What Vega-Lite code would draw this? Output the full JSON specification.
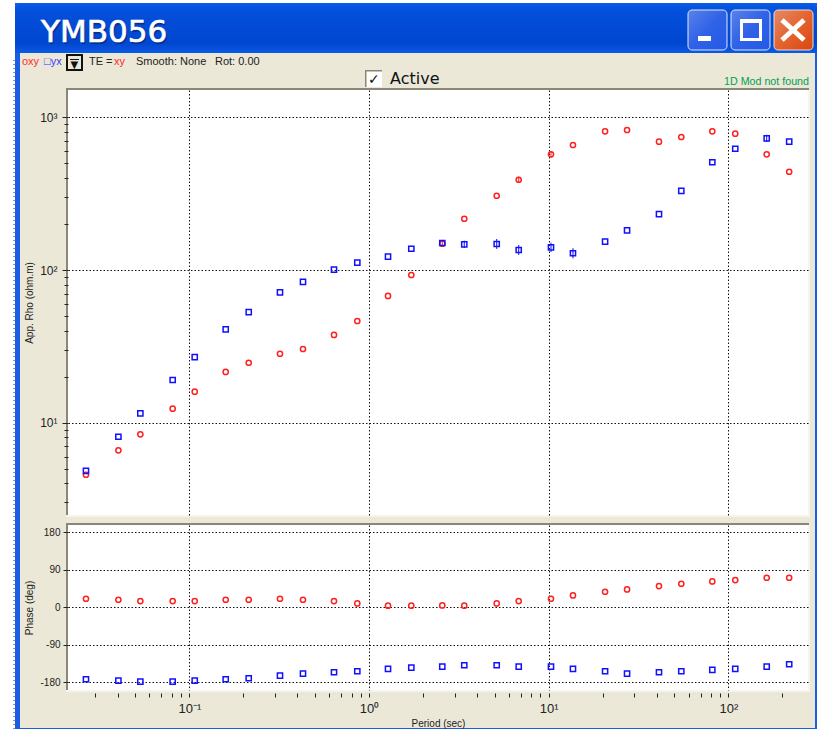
{"$schema":"https://vega.github.io/schema/vega-lite/v6.json","padding":0,"background":"white","spacing":10,"bounds":"flush","config":{"view":{"stroke":null},"font":"Liberation Sans","axis":{"labelFont":"Liberation Sans","titleFont":"Liberation Sans","titleFontWeight":"normal"}},"datasets":{"mt":[
{"period":0.0266,"mode":"xy","rho":4.56,"phase":20.4},{"period":0.0403,"mode":"xy","rho":6.59,"phase":18},{"period":0.0534,"mode":"xy","rho":8.39,"phase":14.8},{"period":0.0808,"mode":"xy","rho":12.35,"phase":14.8},{"period":0.1072,"mode":"xy","rho":15.96,"phase":14.8},{"period":0.1594,"mode":"xy","rho":21.5,"phase":18},{"period":0.2141,"mode":"xy","rho":24.7,"phase":18},{"period":0.3196,"mode":"xy","rho":28.3,"phase":20.4},{"period":0.4292,"mode":"xy","rho":30.4,"phase":18},{"period":0.6386,"mode":"xy","rho":37.6,"phase":14.8},{"period":0.8608,"mode":"xy","rho":46.4,"phase":9.2},{"period":1.276,"mode":"xy","rho":67.7,"phase":3.6},{"period":1.72,"mode":"xy","rho":92.9,"phase":3.6},{"period":2.558,"mode":"xy","rho":148.9,"phase":4.4,"lo":142,"hi":156},{"period":3.39,"mode":"xy","rho":217,"phase":3.6},{"period":5.137,"mode":"xy","rho":307,"phase":9.2},{"period":6.81,"mode":"xy","rho":391,"phase":14.8,"lo":373,"hi":410},{"period":10.3,"mode":"xy","rho":574,"phase":20.4,"lo":548,"hi":601},{"period":13.65,"mode":"xy","rho":660,"phase":28.4},{"period":20.6,"mode":"xy","rho":812,"phase":37.2},{"period":27.3,"mode":"xy","rho":828,"phase":42.8},{"period":41.1,"mode":"xy","rho":694,"phase":50.8},{"period":54.7,"mode":"xy","rho":745,"phase":56.4},{"period":81.4,"mode":"xy","rho":812,"phase":62},{"period":109.2,"mode":"xy","rho":783,"phase":65.2},{"period":163.4,"mode":"xy","rho":574,"phase":70.8},{"period":218,"mode":"xy","rho":441,"phase":70.8},
{"period":0.0266,"mode":"yx","rho":4.83,"phase":-173.2},{"period":0.0403,"mode":"yx","rho":8.09,"phase":-176.4},{"period":0.0534,"mode":"yx","rho":11.5,"phase":-178.8},{"period":0.0808,"mode":"yx","rho":19.05,"phase":-178.8},{"period":0.1072,"mode":"yx","rho":26.9,"phase":-176.4},{"period":0.1594,"mode":"yx","rho":40.9,"phase":-173.2},{"period":0.2141,"mode":"yx","rho":53.1,"phase":-170.8},{"period":0.3196,"mode":"yx","rho":71.5,"phase":-164.4},{"period":0.4292,"mode":"yx","rho":83.6,"phase":-159.6},{"period":0.6386,"mode":"yx","rho":100.6,"phase":-156.4},{"period":0.8608,"mode":"yx","rho":111.8,"phase":-154},{"period":1.276,"mode":"yx","rho":122.4,"phase":-148.4},{"period":1.72,"mode":"yx","rho":138,"phase":-145.2},{"period":2.558,"mode":"yx","rho":150.5,"phase":-142.8},{"period":3.39,"mode":"yx","rho":147.6,"phase":-139.6,"lo":139.6,"hi":156},{"period":5.137,"mode":"yx","rho":148.3,"phase":-139.6,"lo":137.6,"hi":160},{"period":6.81,"mode":"yx","rho":135.4,"phase":-142.8,"lo":125.6,"hi":146},{"period":10.3,"mode":"yx","rho":141,"phase":-142.8,"lo":131.4,"hi":151.3},{"period":13.65,"mode":"yx","rho":128.9,"phase":-148.4,"lo":119.4,"hi":139.2},{"period":20.6,"mode":"yx","rho":153.5,"phase":-154},{"period":27.3,"mode":"yx","rho":182,"phase":-159.6},{"period":41.1,"mode":"yx","rho":233,"phase":-156.4},{"period":54.7,"mode":"yx","rho":330,"phase":-154},{"period":81.4,"mode":"yx","rho":509,"phase":-150.8},{"period":109.2,"mode":"yx","rho":624,"phase":-148.4},{"period":163.4,"mode":"yx","rho":730,"phase":-142.8,"lo":691,"hi":770},{"period":218,"mode":"yx","rho":694,"phase":-137.2}
]},
"vconcat":[
{"width":740,"height":80,"layer":[
{"data":{"values":[{"part":"page","l":0,"r":819,"t":0,"b":729},{"part":"window","l":15,"r":817,"t":3,"b":729},{"part":"face","l":20,"r":815,"t":53,"b":728},{"part":"frame","l":66,"r":809,"t":88,"b":90},{"part":"frame","l":66,"r":68,"t":88,"b":517},{"part":"light","l":66,"r":810,"t":515,"b":517},{"part":"light","l":808,"r":810,"t":90,"b":517},{"part":"frame","l":66,"r":809,"t":523,"b":525},{"part":"frame","l":66,"r":68,"t":523,"b":692},{"part":"light","l":66,"r":810,"t":690,"b":692},{"part":"light","l":808,"r":810,"t":525,"b":692},{"part":"icon","l":23,"r":36,"t":23,"b":36},{"part":"dropdown","l":66,"r":83,"t":54,"b":71},{"part":"face","l":68,"r":81,"t":56,"b":69},{"part":"dropdown","l":70,"r":79,"t":59,"b":60},{"part":"frame","l":365,"r":382,"t":70,"b":87},{"part":"checkbox","l":366.5,"r":382,"t":71.5,"b":87}]},
"mark":{"type":"rect"},"encoding":{"x":{"field":"l","type":"quantitative","scale":{"domain":[68,808],"nice":false,"zero":false},"axis":null},"x2":{"field":"r"},"y":{"field":"t","type":"quantitative","scale":{"domain":[0,80],"reverse":true,"nice":false,"zero":false},"axis":null},"y2":{"field":"b"},"fill":{"field":"part","type":"nominal","legend":null,"scale":{"domain":["page","window","face","frame","light","icon","dropdown","checkbox"],"range":["#ffffff","#1a5ee6","#ebe8d8","#8a8778","#f6f4ec","#7d9a74","#111111","#ffffff"]}}}},
{"data":{"values":[{"l":15,"r":817,"t":3,"b":53}]},"mark":{"type":"rect","cornerRadiusTopLeft":6,"cornerRadiusTopRight":6,"fill":{"gradient":"linear","x1":0,"y1":0,"x2":0,"y2":1,"stops":[{"offset":0,"color":"#0a5de8"},{"offset":0.15,"color":"#0350dc"},{"offset":0.8,"color":"#0046cf"},{"offset":1,"color":"#0a5ae6"}]}},"encoding":{"x":{"field":"l","type":"quantitative"},"x2":{"field":"r"},"y":{"field":"t","type":"quantitative"},"y2":{"field":"b"}}},
{"data":{"values":[{"l":688,"r":727,"t":10,"b":50},{"l":731,"r":770,"t":10,"b":50}]},"mark":{"type":"rect","cornerRadius":4,"stroke":"#dfe8fb","strokeWidth":1,"fill":{"gradient":"linear","x1":0,"y1":0,"x2":1,"y2":1,"stops":[{"offset":0,"color":"#5b82ea"},{"offset":0.5,"color":"#2f62e6"},{"offset":1,"color":"#2459e8"}]}},"encoding":{"x":{"field":"l","type":"quantitative"},"x2":{"field":"r"},"y":{"field":"t","type":"quantitative"},"y2":{"field":"b"}}},
{"data":{"values":[{"l":774,"r":813,"t":10,"b":50}]},"mark":{"type":"rect","cornerRadius":4,"stroke":"#f2dcd2","strokeWidth":1,"fill":{"gradient":"linear","x1":0,"y1":0,"x2":1,"y2":1,"stops":[{"offset":0,"color":"#e58a68"},{"offset":0.5,"color":"#e4642f"},{"offset":1,"color":"#d9460f"}]}},"encoding":{"x":{"field":"l","type":"quantitative"},"x2":{"field":"r"},"y":{"field":"t","type":"quantitative"},"y2":{"field":"b"}}},
{"data":{"values":[{"l":698,"r":711,"t":36,"b":41},{"l":740,"r":762,"t":19,"b":23},{"l":740,"r":743,"t":19,"b":41},{"l":759,"r":762,"t":19,"b":41},{"l":740,"r":762,"t":38,"b":41}]},"mark":{"type":"rect","fill":"white"},"encoding":{"x":{"field":"l","type":"quantitative"},"x2":{"field":"r"},"y":{"field":"t","type":"quantitative"},"y2":{"field":"b"}}},
{"data":{"values":[{"l":782,"r":804,"t":20,"b":40},{"l":804,"r":782,"t":20,"b":40}]},"mark":{"type":"rule","color":"white","strokeWidth":5},"encoding":{"x":{"field":"l","type":"quantitative"},"x2":{"field":"r"},"y":{"field":"t","type":"quantitative"},"y2":{"field":"b"}}},
{"data":{"values":[{"l":14,"t":60,"b":729}]},"mark":{"type":"rule","color":"#333333","strokeDash":[1,3]},"encoding":{"x":{"field":"l","type":"quantitative"},"y":{"field":"t","type":"quantitative"},"y2":{"field":"b"}}},
{"data":{"values":[{"label":"YMB056","l":41,"base":42}]},"mark":{"type":"text","align":"left","baseline":"alphabetic","font":"DejaVu Sans","fontSize":31,"fill":"#0a2f8c","dx":1.5,"dy":1.5},"encoding":{"x":{"field":"l","type":"quantitative"},"y":{"field":"base","type":"quantitative"},"text":{"field":"label"}}},
{"data":{"values":[{"label":"YMB056","l":41,"base":42}]},"mark":{"type":"text","align":"left","baseline":"alphabetic","font":"DejaVu Sans","fontSize":31,"fill":"white","stroke":"white","strokeWidth":0.7},"encoding":{"x":{"field":"l","type":"quantitative"},"y":{"field":"base","type":"quantitative"},"text":{"field":"label"}}},
{"data":{"values":[{"label":"Active","l":390,"base":84}]},"mark":{"type":"text","align":"left","baseline":"alphabetic","font":"DejaVu Sans","fontSize":16,"fill":"#111111"},"encoding":{"x":{"field":"l","type":"quantitative"},"y":{"field":"base","type":"quantitative"},"text":{"field":"label"}}},
{"data":{"values":[{"label":"✓","l":368,"base":84}]},"mark":{"type":"text","align":"left","baseline":"alphabetic","font":"DejaVu Sans","fontSize":14,"fontWeight":"bold","fill":"#111111"},"encoding":{"x":{"field":"l","type":"quantitative"},"y":{"field":"base","type":"quantitative"},"text":{"field":"label"}}},
{"data":{"values":[{"label":"▼","l":70.5,"base":68}]},"mark":{"type":"text","align":"left","baseline":"alphabetic","font":"DejaVu Sans","fontSize":10,"fill":"#111111"},"encoding":{"x":{"field":"l","type":"quantitative"},"y":{"field":"base","type":"quantitative"},"text":{"field":"label"}}},
{"data":{"values":[{"label":"oxy","l":22,"base":65,"kind":"red"},{"label":"□yx","l":44,"base":65,"kind":"blue"},{"label":"TE =","l":89,"base":65,"kind":"dark"},{"label":"xy","l":114,"base":65,"kind":"red"},{"label":"Smooth:","l":136,"base":65,"kind":"dark"},{"label":"None","l":180,"base":65,"kind":"dark"},{"label":"Rot: 0.00","l":215,"base":65,"kind":"dark"}]},"mark":{"type":"text","align":"left","baseline":"alphabetic","fontSize":11},"encoding":{"x":{"field":"l","type":"quantitative"},"y":{"field":"base","type":"quantitative"},"text":{"field":"label"},"fill":{"field":"kind","type":"nominal","legend":null,"scale":{"domain":["red","blue","dark"],"range":["#ff2a2a","#3a3aff","#222222"]}}}},
{"data":{"values":[{"label":"1D Mod not found","l":724,"base":85}]},"mark":{"type":"text","align":"left","baseline":"alphabetic","fontSize":10.7,"fill":"#00a050"},"encoding":{"x":{"field":"l","type":"quantitative"},"y":{"field":"base","type":"quantitative"},"text":{"field":"label"}}}
],"resolve":{"scale":{"fill":"independent"}}},
{"width":740,"height":425,"data":{"name":"mt"},"layer":[
{"transform":[{"filter":"isValid(datum.lo)"}],"mark":{"type":"rule","strokeWidth":1},"encoding":{"x":{"field":"period","type":"quantitative","scale":{"type":"log","domain":[0.02113,277.4],"nice":false}},"y":{"field":"lo","type":"quantitative","scale":{"type":"log","domain":[2.484,1514],"nice":false}},"y2":{"field":"hi"},"color":{"field":"mode","type":"nominal","legend":null,"scale":{"domain":["xy","yx"],"range":["#ff2020","#1010ff"]}}}},
{"mark":{"type":"point","filled":false,"strokeWidth":1.5,"size":27,"opacity":1},"encoding":{"x":{"field":"period","type":"quantitative","scale":{"type":"log","domain":[0.02113,277.4],"nice":false},"axis":{"title":null,"labels":false,"ticks":false,"domain":false,"values":[0.1,1,10,100],"grid":true,"gridColor":"#111111","gridDash":[1.5,2],"gridOpacity":1}},"y":{"field":"rho","type":"quantitative","scale":{"type":"log","domain":[2.484,1514],"nice":false},"axis":{"title":"App. Rho (ohm.m)","titleFontSize":10,"titleColor":"#222222","titleX":-34,"domain":false,"tickColor":"#222222","tickSize":{"condition":{"test":"indexof([10,100,1000],datum.value)>=0","value":6},"value":4},"labelPadding":5,"labelFontSize":12,"labelColor":"#222222","values":[3,4,5,6,7,8,9,10,20,30,40,50,60,70,80,90,100,200,300,400,500,600,700,800,900,1000],"labelExpr":"datum.value==1000?'10³':datum.value==100?'10²':datum.value==10?'10¹':''","labelOverlap":false,"grid":true,"gridColor":"#111111","gridDash":[1.5,2],"gridOpacity":{"condition":{"test":"indexof([10,100,1000],datum.value)>=0","value":1},"value":0}}},"color":{"field":"mode","type":"nominal","legend":null,"scale":{"domain":["xy","yx"],"range":["#ff2020","#1010ff"]}},"shape":{"field":"mode","type":"nominal","legend":null,"scale":{"domain":["xy","yx"],"range":["circle","square"]}}}}
],"view":{"fill":"white","stroke":null}},
{"width":740,"height":165,"data":{"name":"mt"},"mark":{"type":"point","filled":false,"strokeWidth":1.5,"size":27,"opacity":1},"encoding":{"x":{"field":"period","type":"quantitative","scale":{"type":"log","domain":[0.02113,277.4],"nice":false},"axis":{"title":"Period (sec)","titleFontSize":10,"titleColor":"#222222","titlePadding":3,"domain":false,"tickColor":"#222222","tickSize":4,"offset":3,"labelPadding":5,"labelFontSize":13,"labelColor":"#222222","values":[0.03,0.04,0.05,0.06,0.07,0.08,0.09,0.1,0.2,0.3,0.4,0.5,0.6,0.7,0.8,0.9,1,2,3,4,5,6,7,8,9,10,20,30,40,50,60,70,80,90,100,200],"labelExpr":"datum.value==0.1?'10⁻¹':datum.value==1?'10⁰':datum.value==10?'10¹':datum.value==100?'10²':''","labelOverlap":false,"labelFlush":false,"grid":true,"gridColor":"#111111","gridDash":[1.5,2],"gridOpacity":{"condition":{"test":"indexof([0.1,1,10,100],datum.value)>=0","value":1},"value":0}}},"y":{"field":"phase","type":"quantitative","scale":{"domain":[-199.1,197.7],"nice":false,"zero":false},"axis":{"title":"Phase (deg)","titleFontSize":10,"titleColor":"#222222","titleX":-34,"domain":false,"tickColor":"#222222","tickSize":5,"labelPadding":3,"labelFontSize":10,"labelColor":"#222222","values":[-180,-90,0,90,180],"labelExpr":"''+datum.value","grid":true,"gridColor":"#111111","gridDash":[1.5,2]}},"color":{"field":"mode","type":"nominal","legend":null,"scale":{"domain":["xy","yx"],"range":["#ff2020","#1010ff"]}},"shape":{"field":"mode","type":"nominal","legend":null,"scale":{"domain":["xy","yx"],"range":["circle","square"]}}},"view":{"fill":"white","stroke":null}}
]}
